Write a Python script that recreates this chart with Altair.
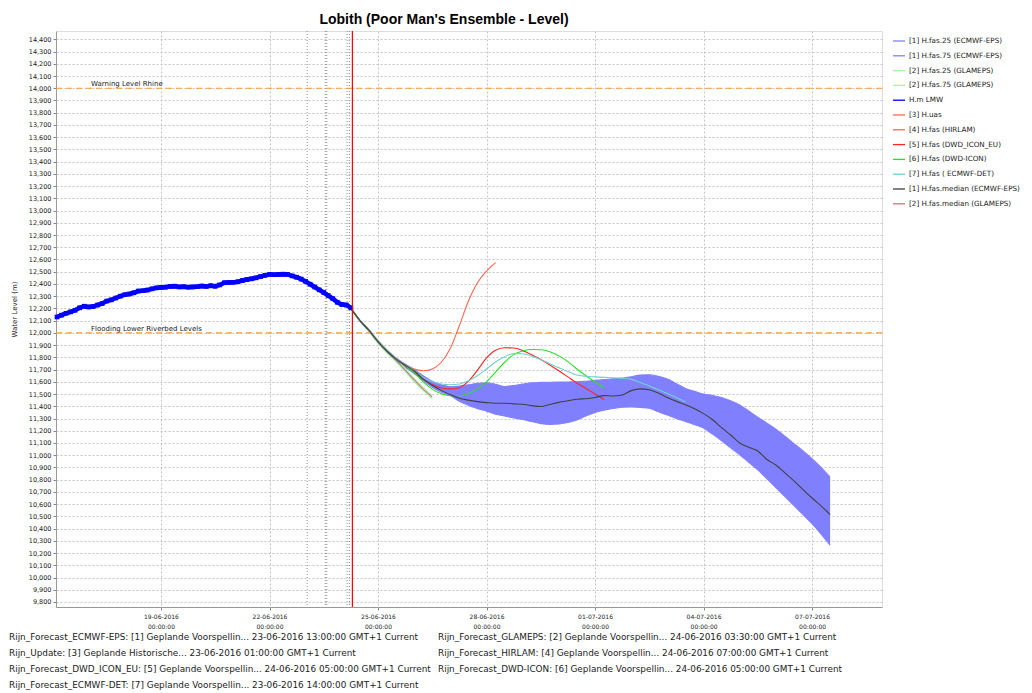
import altair as alt
import pandas as pd

TITLE = "Lobith (Poor Man's Ensemble - Level)"

# ---------------- observed level H.m LMW (3-hourly from 16-06-2016 03:00) ----------------
obs_start = "2016-06-16 03:00"
obs_values = [12130, 12145, 12160, 12172, 12185, 12205, 12218, 12212, 12215, 12228,
              12240, 12260, 12270, 12285, 12300, 12312, 12318, 12328, 12342, 12345,
              12350, 12360, 12368, 12372, 12374, 12380, 12382, 12376, 12378, 12374,
              12376, 12378, 12383, 12380, 12386, 12381, 12392, 12410, 12412, 12413,
              12418, 12428, 12436, 12442, 12450, 12460, 12470, 12478, 12476, 12478,
              12480, 12478, 12466, 12455, 12440, 12420, 12398, 12375, 12352, 12330,
              12305, 12280, 12250, 12232, 12228, 12205]

# ---------------- forecasts (6-hourly from 24-06-2016 06:00) ----------------
fc_start = "2016-06-24 06:00"
ecmwf_q75 = [12205, 12105, 12028, 11938, 11860, 11795, 11745, 11700, 11650, 11605,
             11575, 11560, 11565, 11575, 11588, 11592, 11580, 11562, 11570, 11582,
             11592, 11595, 11597, 11598, 11599, 11600, 11605, 11612, 11618, 11625,
             11630, 11642, 11655, 11658, 11645, 11622, 11585, 11545, 11522, 11500,
             11488, 11472, 11445, 11410, 11362, 11310, 11262, 11212, 11155, 11095,
             11035, 10972, 10900, 10820]
ecmwf_q25 = [12195, 12095, 12012, 11918, 11838, 11772, 11718, 11668, 11610, 11555,
             11515, 11488, 11440, 11408, 11380, 11360, 11335, 11320, 11305, 11292,
             11275, 11258, 11252, 11255, 11268, 11288, 11320, 11350, 11368, 11382,
             11392, 11395, 11390, 11384, 11355, 11328, 11300, 11275, 11250, 11222,
             11172, 11118, 11060, 11003, 10942, 10880, 10808, 10735, 10662, 10588,
             10515, 10440, 10355, 10265]
ecmwf_median = [12200, 12100, 12020, 11928, 11850, 11785, 11735, 11690, 11622, 11572,
                11530, 11495, 11466, 11450, 11438, 11430, 11425, 11425, 11420, 11417,
                11405, 11398, 11415, 11432, 11445, 11458, 11462, 11472, 11487, 11484,
                11492, 11528, 11542, 11535, 11508, 11472, 11440, 11412, 11380, 11340,
                11290, 11225, 11165, 11100, 11065, 11035, 10965, 10920, 10855, 10790,
                10718, 10650, 10585, 10515]
glameps_q25 = [12195, 12095, 12012, 11915, 11835, 11763, 11683, 11602, 11528, 11462]
glameps_q75 = [12205, 12105, 12026, 11935, 11855, 11787, 11708, 11628, 11553, 11488]
glameps_median = [12200, 12100, 12020, 11925, 11845, 11775, 11695, 11615, 11540, 11475]
hirlam = [12200, 12100, 12020, 11928, 11850, 11785, 11738, 11705, 11690, 11705,
          11760, 11875, 12060, 12260, 12410, 12505, 12575]
dwd_icon_eu = [12200, 12100, 12020, 11928, 11850, 11785, 11730, 11680, 11620, 11578,
               11550, 11542, 11552, 11605, 11695, 11795, 11858, 11878, 11876, 11855,
               11822, 11782, 11738, 11690, 11640, 11590, 11545, 11500, 11455]
dwd_icon = [12200, 12100, 12020, 11928, 11850, 11785, 11730, 11675, 11600, 11540,
            11502, 11486, 11486, 11505, 11542, 11600, 11680, 11760, 11822, 11852,
            11864, 11862, 11845, 11812, 11765, 11705, 11650, 11600, 11548]
ecmwf_det = [12200, 12100, 12020, 11930, 11852, 11788, 11738, 11692, 11635, 11602,
             11582, 11576, 11582, 11608, 11650, 11705, 11762, 11805, 11832, 11830,
             11810, 11780, 11748, 11715, 11685, 11655, 11645, 11640, 11636, 11633,
             11628, 11620, 11595, 11565, 11535, 11505, 11470, 11435]

# ---------------- legend ----------------
legend_names = ["[1] H.fas.25 (ECMWF-EPS)", "[1] H.fas.75 (ECMWF-EPS)",
                "[2] H.fas.25 (GLAMEPS)", "[2] H.fas.75 (GLAMEPS)", "H.m LMW",
                "[3] H.uas", "[4] H.fas (HIRLAM)", "[5] H.fas (DWD_ICON_EU)",
                "[6] H.fas (DWD-ICON)", "[7] H.fas ( ECMWF-DET)",
                "[1] H.fas.median (ECMWF-EPS)", "[2] H.fas.median (GLAMEPS)"]
legend_colors = ["#8080ff", "#8080ff", "#a6f2a6", "#a6f2a6", "#0000ff",
                 "#ff6a50", "#ff6450", "#ff2424", "#22e422", "#70d0d0",
                 "#404040", "#c47a7a"]

# ---------------- reference levels / markers ----------------
level_values = [14000, 12000]
level_labels = ["Warning Level Rhine", "Flooding Lower Riverbed Levels"]
issue_times = ["2016-06-23T01:00:00", "2016-06-23T13:00:00", "2016-06-23T14:00:00",
               "2016-06-24T03:30:00", "2016-06-24T05:00:00"]
t0_time = ["2016-06-24T07:00:00"]
tick_days = [(6, 19), (6, 22), (6, 25), (6, 28), (7, 1), (7, 4), (7, 7)]
y_ticks = list(range(9800, 14401, 100))

footer_left = [
    "Rijn_Forecast_ECMWF-EPS: [1] Geplande Voorspellin... 23-06-2016 13:00:00 GMT+1 Current",
    "Rijn_Update: [3] Geplande Historische... 23-06-2016 01:00:00 GMT+1 Current",
    "Rijn_Forecast_DWD_ICON_EU: [5] Geplande Voorspellin... 24-06-2016 05:00:00 GMT+1 Current",
    "Rijn_Forecast_ECMWF-DET: [7] Geplande Voorspellin... 23-06-2016 14:00:00 GMT+1 Current",
]
footer_right = [
    "Rijn_Forecast_GLAMEPS: [2] Geplande Voorspellin... 24-06-2016 03:30:00 GMT+1 Current",
    "Rijn_Forecast_HIRLAM: [4] Geplande Voorspellin... 24-06-2016 07:00:00 GMT+1 Current",
    "Rijn_Forecast_DWD-ICON: [6] Geplande Voorspellin... 24-06-2016 05:00:00 GMT+1 Current",
]

# ---------------- build tables ----------------
def series_frame(name, start, freq, values):
    t = pd.date_range(start, periods=len(values), freq=freq)
    return pd.DataFrame({"t": t, "value": values, "series": name})

obs_df = series_frame("H.m LMW", obs_start, "3h", obs_values)
fc_df = pd.concat([
    series_frame("[1] H.fas.25 (ECMWF-EPS)", fc_start, "6h", ecmwf_q25),
    series_frame("[1] H.fas.75 (ECMWF-EPS)", fc_start, "6h", ecmwf_q75),
    series_frame("[2] H.fas.25 (GLAMEPS)", fc_start, "6h", glameps_q25),
    series_frame("[2] H.fas.75 (GLAMEPS)", fc_start, "6h", glameps_q75),
    series_frame("[2] H.fas.median (GLAMEPS)", fc_start, "6h", glameps_median),
    series_frame("[4] H.fas (HIRLAM)", fc_start, "6h", hirlam),
    series_frame("[5] H.fas (DWD_ICON_EU)", fc_start, "6h", dwd_icon_eu),
    series_frame("[6] H.fas (DWD-ICON)", fc_start, "6h", dwd_icon),
    series_frame("[7] H.fas ( ECMWF-DET)", fc_start, "6h", ecmwf_det),
    series_frame("[1] H.fas.median (ECMWF-EPS)", fc_start, "6h", ecmwf_median),
], ignore_index=True)
band_df = pd.DataFrame({
    "t": pd.date_range(fc_start, periods=len(ecmwf_q25), freq="6h"),
    "lo": ecmwf_q25, "hi": ecmwf_q75,
})
levels_df = pd.DataFrame({"value": level_values, "label": level_labels})
issue_df = pd.DataFrame({"t": issue_times})
t0_df = pd.DataFrame({"t": t0_time})
footer_df = pd.DataFrame({"left": ["\n".join(footer_left)], "right": ["\n".join(footer_right)]})

# ---------------- scales / axes ----------------
FONT = "DejaVu Sans"
x_scale = alt.Scale(domain=[alt.DateTime(year=2016, month=6, date=16, hours=2, minutes=20),
                            alt.DateTime(year=2016, month=7, date=8, hours=22, minutes=25)])
y_scale = alt.Scale(domain=[9759, 14468], nice=False, zero=False)
x_axis = alt.Axis(
    values=[alt.DateTime(year=2016, month=m, date=d) for m, d in tick_days],
    labelExpr="[timeFormat(datum.value, '%d-%m-%Y'), timeFormat(datum.value, '%H:%M:%S')]",
    labelFont=FONT, labelFontSize=6, labelLineHeight=10, labelColor="#222",
    labelPadding=3, tickSize=3, tickColor="#888", domainColor="#999",
    grid=True, gridColor="#c4c4c4", gridDash=[2, 2], labelFlush=False,
)
y_axis = alt.Axis(
    values=y_ticks, format=",.0f", labelFont=FONT, labelFontSize=6.5, labelColor="#222",
    labelPadding=2, tickSize=3, tickColor="#888", domainColor="#999",
    grid=True, gridColor="#c4c4c4", gridDash=[2, 2],
    titleFont=FONT, titleFontSize=7, titleFontWeight="normal", titleColor="#222",
    titleX=-42, titleY=278, titleAngle=-90, titleAlign="center", titleBaseline="middle",
)

X = alt.X("t:T", scale=x_scale, axis=x_axis, title=None)
Y_TITLE = "Water Level (m)"

color = alt.Color(
    "series:N",
    scale=alt.Scale(domain=legend_names, range=legend_colors),
    legend=alt.Legend(
        title=None, orient="none", legendX=836, legendY=3, symbolType="stroke",
        symbolSize=144, symbolStrokeWidth=1.3, labelFont=FONT, labelFontSize=7.2,
        labelColor="#222", labelOffset=3, labelLimit=220, rowPadding=3.8,
    ),
)

band = alt.Chart(band_df).mark_area(color="#8080ff", opacity=1).encode(
    x=X,
    y=alt.Y("lo:Q", scale=y_scale, axis=y_axis, title=Y_TITLE),
    y2="hi:Q",
)

issue_rules = alt.Chart(issue_df).mark_rule(color="#909090", strokeDash=[1, 2], strokeWidth=1).encode(
    x=X
)

level_rules = alt.Chart(levels_df).mark_rule(color="#ff9933", strokeDash=[6, 4], strokeWidth=1.2).encode(
    y=alt.Y("value:Q", scale=y_scale, axis=y_axis, title=Y_TITLE)
)
level_text = alt.Chart(levels_df).mark_text(
    align="left", baseline="bottom", dy=-1, font=FONT, fontSize=7, color="#222"
).encode(
    x=alt.value(35),
    y=alt.Y("value:Q", scale=y_scale, axis=y_axis, title=Y_TITLE),
    text="label:N",
)

fc_lines = alt.Chart(fc_df).mark_line(strokeWidth=1.1, interpolate="monotone").encode(
    x=X,
    y=alt.Y("value:Q", scale=y_scale, axis=y_axis, title=Y_TITLE),
    color=color,
    detail="series:N",
)

obs_line = alt.Chart(obs_df).mark_line(strokeWidth=4.5).encode(
    x=X,
    y=alt.Y("value:Q", scale=y_scale, axis=y_axis, title=Y_TITLE),
    color=color,
)
obs_pts = alt.Chart(obs_df).mark_point(shape="square", filled=True, size=22, opacity=1).encode(
    x=X,
    y=alt.Y("value:Q", scale=y_scale, axis=y_axis, title=Y_TITLE),
    color=alt.value("#0000ff"),
)

t0_rule = alt.Chart(t0_df).mark_rule(color="#ff0000", strokeWidth=1.2).encode(x=X)

footer_l = alt.Chart(footer_df).mark_text(
    align="left", baseline="top", lineBreak="\n", lineHeight=16,
    font=FONT, fontSize=8.9, color="#222"
).encode(x=alt.value(-47), y=alt.value(602), text="left:N")
footer_r = alt.Chart(footer_df).mark_text(
    align="left", baseline="top", lineBreak="\n", lineHeight=16,
    font=FONT, fontSize=8.9, color="#222"
).encode(x=alt.value(382), y=alt.value(602), text="right:N")

chart = alt.layer(
    band, issue_rules, level_rules, level_text, fc_lines, obs_line, obs_pts, t0_rule,
    footer_l, footer_r,
).properties(
    width=826, height=576,
    title=alt.TitleParams(TITLE, font="Liberation Sans", fontSize=14, fontWeight="bold",
                          anchor="middle", dx=-25, offset=3, color="#000"),
    autosize=alt.AutoSizeParams(type="none"),
    padding={"left": 48, "top": 23, "right": 142, "bottom": 86},
).configure_view(stroke="#a0a0a0", strokeWidth=1).configure(background="white")

chart.save("out.html", embed_options={"renderer": "svg", "actions": False})
